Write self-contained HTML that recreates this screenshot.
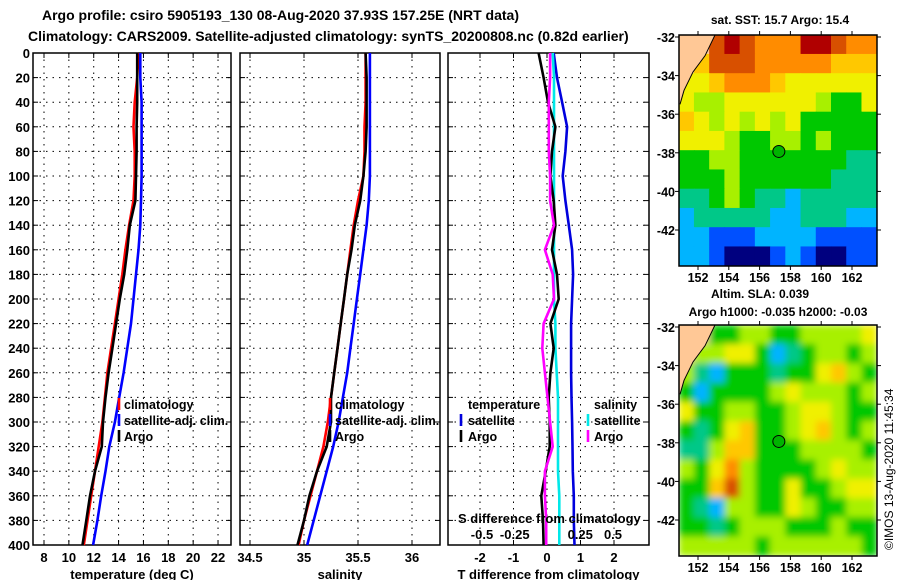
<!DOCTYPE html>
<html><head><meta charset="utf-8"><style>
html,body{margin:0;padding:0;background:#fff}
svg{display:block}
text{font-family:"Liberation Sans",sans-serif;font-weight:bold;fill:#000}
</style></head><body>
<svg id="s" width="900" height="580" viewBox="0 0 900 580">
<text x="42" y="20" font-size="14">Argo profile: csiro 5905193_130 08-Aug-2020 37.93S 157.25E (NRT data)</text>
<text x="28" y="41" font-size="14">Climatology: CARS2009. Satellite-adjusted climatology: synTS_20200808.nc (0.82d earlier)</text>
<text x="780" y="24" font-size="12" text-anchor="middle">sat. SST: 15.7 Argo: 15.4</text>
<text x="760" y="298" font-size="12" text-anchor="middle">Altim. SLA: 0.039</text>
<text x="778" y="316" font-size="12" text-anchor="middle">Argo h1000: -0.035 h2000: -0.03</text>
<text transform="translate(893,550) rotate(-90)" font-size="12" style="font-weight:normal">©IMOS 13-Aug-2020 11:45:34</text>
<g id="g"></g>
</svg>
<script>
const depth=[0,20,40,60,80,100,120,140,160,180,200,220,240,260,280,300,320,340,360,380,400];
const tArgo=[15.5,15.5,15.5,15.45,15.45,15.4,15.35,14.9,14.7,14.45,14.1,13.8,13.5,13.2,12.95,12.75,12.65,12.1,11.7,11.4,11.1];
const tClim=[15.6,15.5,15.3,15.2,15.3,15.3,15.2,14.85,14.55,14.3,14.0,13.7,13.4,13.1,12.9,12.7,12.4,12.1,11.8,11.5,11.2];
const tSat=[15.75,15.75,15.85,15.85,15.85,15.85,15.8,15.75,15.6,15.4,15.2,15.0,14.7,14.4,14.05,13.7,13.25,12.95,12.6,12.3,11.95];
const sArgo=[35.57,35.58,35.58,35.58,35.57,35.55,35.52,35.47,35.44,35.40,35.37,35.34,35.31,35.28,35.25,35.25,35.21,35.12,35.05,35.0,34.94];
const sClim=[35.57,35.57,35.57,35.56,35.56,35.55,35.5,35.46,35.43,35.40,35.37,35.34,35.31,35.28,35.25,35.22,35.18,35.12,35.06,35.0,34.95];
const sSat=[35.61,35.61,35.61,35.61,35.61,35.61,35.6,35.58,35.55,35.52,35.49,35.46,35.43,35.40,35.36,35.32,35.27,35.21,35.15,35.09,35.03];
const tdSat=[0.2,0.3,0.45,0.6,0.55,0.47,0.55,0.65,0.75,0.78,0.75,0.72,0.72,0.72,0.73,0.75,0.76,0.77,0.8,0.8,0.82];
const tdArgo=[-0.25,-0.1,0.03,0.25,0.15,0.1,0.2,0.25,0.15,0.3,0.35,0.1,0.2,0.1,0.05,0.08,0.08,-0.04,-0.17,-0.12,-0.1];
const sdArgo=[0.02,0.02,0.01,0.01,0.01,0.02,0.02,0.05,-0.02,0.04,0.05,-0.03,-0.04,-0.02,0.0,0.02,0.04,-0.02,-0.02,-0.01,-0.01];
const sdSat=[0.04,0.05,0.05,0.05,0.05,0.05,0.05,0.05,0.05,0.05,0.05,0.06,0.06,0.07,0.08,0.08,0.08,0.08,0.09,0.09,0.09];
const depthTicks=[0,20,40,60,80,100,120,140,160,180,200,220,240,260,280,300,320,340,360,380,400];
const tTicks=[8,10,12,14,16,18,20,22];
const sTicks=[34.5,35,35.5,36];
const tdTicks=[-2,-1,0,1,2];
const sdTicks=[-0.5,-0.25,0,0.25,0.5];
const sdTickLabels=["-0.5","-0.25","0","0.25","0.5"];
const latTicks=[-32,-34,-36,-38,-40,-42];
const lonTicks=[152,154,156,158,160,162];
const sstGrid=[
[-1,-1,9,10,9,8,8,8,10,10,9,8,8],
[-1,7,9,9,9,8,8,8,8,8,7,7,7],
[6,6,7,8,8,8,7,6,6,6,6,6,6],
[6,5,5,6,6,6,6,6,6,5,4,4,6],
[7,6,5,6,5,6,5,6,4,4,4,4,4],
[6,6,6,5,4,4,5,5,4,5,4,4,4],
[4,4,5,5,4,4,4,4,4,4,4,3,3],
[4,4,4,5,4,4,4,4,4,4,3,3,3],
[3,3,4,5,4,3,3,2,3,3,3,3,3],
[2,3,3,3,3,3,2,2,3,3,3,2,2],
[2,2,1,1,1,2,2,2,2,1,1,1,1],
[2,2,1,0,0,0,1,2,1,0,0,1,1]];
const slaGrid=[
[-1,-1,4,4,5,5,4,4,5,5,5,5,6],
[-1,5,5,6,6,4,2,3,4,5,5,4,5],
[5,3,2,4,4,4,3,4,4,6,7,5,4],
[4,2,4,4,4,4,5,6,5,5,5,4,5],
[6,4,4,5,5,4,4,5,6,6,5,4,4],
[4,3,4,6,7,4,4,5,6,7,5,4,5],
[3,3,5,7,7,4,4,4,5,5,5,5,4],
[5,4,6,8,5,4,4,4,4,5,6,5,5],
[4,4,7,9,5,4,4,6,4,4,5,6,6],
[4,3,2,5,5,4,4,6,5,4,4,5,5],
[4,4,3,4,5,5,5,4,4,4,5,4,4],
[5,5,5,5,5,4,5,5,5,5,5,5,4]];
const argoLon=157.25, argoLat=-37.93;
const cmap=["#00007f","#0050ff","#00b4ff","#00c888","#00c800","#a8f000","#f0f000","#ffc800","#ff8c00","#d85000","#b00000"];

const NS="http://www.w3.org/2000/svg";
const G=document.getElementById('g');
function el(tag,attrs,parent){const e=document.createElementNS(NS,tag);for(const k in attrs)e.setAttribute(k,attrs[k]);(parent||G).appendChild(e);return e;}
function txt(x,y,s,size,anchor,parent){const t=el('text',{x:x,y:y,'font-size':size,'text-anchor':anchor||'start'},parent);t.textContent=s;return t;}

const PT=53,PB=545;
const yD=d=>PT+(d/400)*(PB-PT);
const panels=[
 {name:'temperature',L:33,R:231,x:v=>44+(v-8)*12.43,ticks:tTicks,labels:tTicks.map(String),title:'temperature (deg C)'},
 {name:'salinity',L:240,R:440,x:v=>250+(v-34.5)*108,ticks:sTicks,labels:sTicks.map(String),title:'salinity'},
 {name:'difference',L:448,R:649,x:v=>547+v*33.5,ticks:tdTicks,labels:tdTicks.map(String),title:'T difference from climatology'}
];
panels.forEach((p,pi)=>{
 const g=el('g',{});
 
 
 el('rect',{x:p.L,y:PT,width:p.R-p.L,height:PB-PT,fill:'#fff',stroke:'#000','stroke-width':1.5},g);
 depthTicks.forEach(d=>{
  const y=yD(d);
  if(d>0&&d<400) el('line',{x1:p.L,x2:p.R,y1:y,y2:y,stroke:'#000','stroke-dasharray':'1.5,5'},g);
  el('line',{x1:p.L,x2:p.L+5,y1:y,y2:y,stroke:'#000'},g);
  el('line',{x1:p.R-5,x2:p.R,y1:y,y2:y,stroke:'#000'},g);
  if(pi===0){const t=txt(30,y+5,String(d),13,'end',g);}
 });
 p.ticks.forEach((v,i)=>{
  const x=p.x(v);
  el('line',{x1:x,x2:x,y1:PT,y2:PB,stroke:'#000','stroke-dasharray':'1.5,5'},g);
  el('line',{x1:x,x2:x,y1:PT,y2:PT+5,stroke:'#000'},g);
  el('line',{x1:x,x2:x,y1:PB-5,y2:PB,stroke:'#000'},g);
  const t=txt(x,562,p.labels[i],13,'middle',g);
  
  
 });
 const tt=txt((p.L+p.R)/2,579,p.title,13,'middle',g);
 
 
 p.g=g;
});
function line(p,xs,vals,col,name){
 const pts=vals.map((v,i)=>xs(v).toFixed(1)+','+yD(depth[i]).toFixed(1)).join(' ');
 const l=el('polyline',{points:pts,fill:'none',stroke:col,'stroke-width':2.6,'stroke-linejoin':'miter'},p.g);
 
 
}
const P1=panels[0],P2=panels[1],P3=panels[2];
line(P1,P1.x,tClim,'#ff0000','temperature-climatology-line');
line(P1,P1.x,tSat,'#0000ff','temperature-satellite-line');
line(P1,P1.x,tArgo,'#000000','temperature-argo-line');
line(P2,P2.x,sClim,'#ff0000','salinity-climatology-line');
line(P2,P2.x,sSat,'#0000ff','salinity-satellite-line');
line(P2,P2.x,sArgo,'#000000','salinity-argo-line');
const sdx=v=>547.5+v*131;
line(P3,P3.x,tdSat,'#0000dd','t-diff-satellite-line');
line(P3,sdx,sdSat,'#00e8e8','s-diff-satellite-line');
line(P3,P3.x,tdArgo,'#000000','t-diff-argo-line');
line(P3,sdx,sdArgo,'#ff00ff','s-diff-argo-line');
{const t=txt(458,523,'S difference from climatology',13,'start',P3.g);}
sdTicks.forEach((v,i)=>{if(v===0)return;const t=txt(sdx(v),539,sdTickLabels[i],13,'middle',P3.g);});
function legend(g,bx,tx,y,col,label){
 const gg=el('g',{},g);
 
 
 el('line',{x1:bx,x2:bx,y1:y-11,y2:y+1,stroke:col,'stroke-width':2.6},gg);
 txt(tx,y,label,12.5,'start',gg);
}
legend(P1.g,119,124,409,'#ff0000','climatology');
legend(P1.g,119,124,425,'#0000ff','satellite-adj. clim.');
legend(P1.g,119,124,441,'#000000','Argo');
legend(P2.g,330,335,409,'#ff0000','climatology');
legend(P2.g,330,335,425,'#0000ff','satellite-adj. clim.');
legend(P2.g,330,335,441,'#000000','Argo');
{const t=txt(468,409,'temperature',12.5,'start',P3.g);}
legend(P3.g,461,468,425,'#0000dd','satellite');
legend(P3.g,461,468,441,'#000000','Argo');
{const t=txt(594,409,'salinity',12.5,'start',P3.g);}
legend(P3.g,588,594,425,'#00e8e8','satellite');
legend(P3.g,588,594,441,'#ff00ff','Argo');

function drawMap(grid,top,bottom,name,blur){
 const L=679,R=877;
 const lx=lon=>698+(lon-152)*15.4;
 const ly=lat=>top+2+(-32-lat)*((bottom-top-2-36)/10);
 const g=el('g',{});
 
 
 const cid='clip'+top;
 const cp=el('clipPath',{id:cid},g);
 el('rect',{x:L,y:top,width:R-L,height:bottom-top},cp);
 const cg=el('g',{'clip-path':'url(#'+cid+')'},g);
 const inner=el('g',blur?{filter:'url(#blur)'}:{},cg);
 const rows=grid.length,cols=grid[0].length;
 const cw=(R-L)/cols,ch=(bottom-top)/rows;
 grid.forEach((row,j)=>row.forEach((v,i)=>{
  const c=el('rect',{x:L+i*cw-0.3,y:top+j*ch-0.3,width:cw+0.6,height:ch+0.6,fill:v<0?'#ffc896':cmap[v]},inner);
  
  
 }));
 const h=bottom-top;
 el('polygon',{points:`${L},${top} 715,${top} 705,${top+h*0.09} 693,${top+h*0.16} 684,${top+h*0.24} 680,${top+h*0.3} ${L},${top+h*0.3}`,fill:'#ffc896'},cg);
 el('polyline',{points:`715,${top} 705,${top+h*0.09} 693,${top+h*0.16} 684,${top+h*0.24} 680,${top+h*0.3}`,fill:'none',stroke:'#000','stroke-width':1},cg);
 el('rect',{x:L,y:top,width:R-L,height:h,fill:'none',stroke:'#000','stroke-width':1.5},g);
 latTicks.forEach(lat=>{const y=ly(lat);
  el('line',{x1:L-4,x2:L,y1:y,y2:y,stroke:'#000'},g);
  el('line',{x1:R,x2:R+4,y1:y,y2:y,stroke:'#000'},g);
  const t=txt(L-4,y+5,String(lat),12.5,'end',g);});
 lonTicks.forEach(lon=>{const x=lx(lon);
  el('line',{x1:x,x2:x,y1:top-4,y2:top,stroke:'#000'},g);
  el('line',{x1:x,x2:x,y1:bottom,y2:bottom+4,stroke:'#000'},g);
  const t=txt(x,bottom+16,String(lon),12.5,'middle',g);});
 const m=el('circle',{cx:lx(argoLon),cy:ly(argoLat),r:6,fill:'#00b400',stroke:'#000','stroke-width':1},g);
 
 
}
const defs=el('defs',{});
const f=el('filter',{id:'blur',x:'-5%',y:'-5%',width:'110%',height:'110%'},defs);
el('feGaussianBlur',{stdDeviation:3.5},f);
drawMap(sstGrid,35,266,'sst-map',false);
drawMap(slaGrid,325,556,'sla-map',true);
</script>
</body></html>
